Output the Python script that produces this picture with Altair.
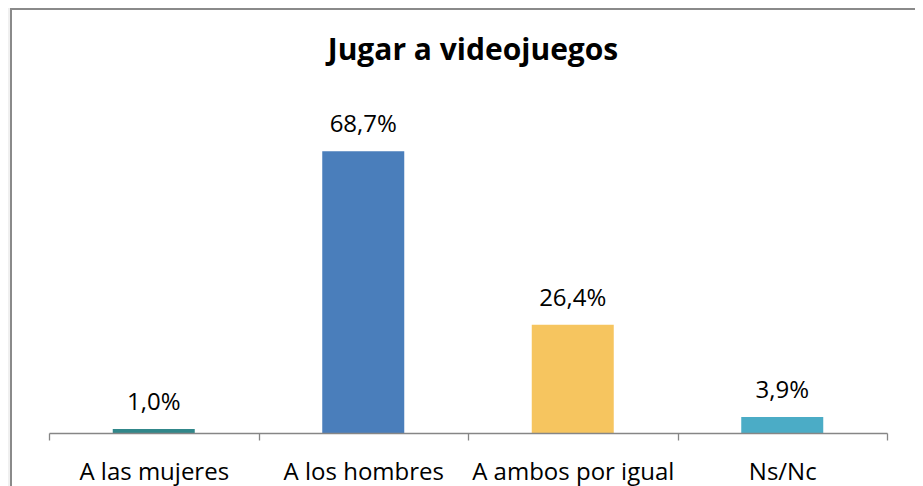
import altair as alt
import pandas as pd

categories = ["A las mujeres", "A los hombres", "A ambos por igual", "Ns/Nc"]
values = [1.0, 68.7, 26.4, 3.9]
labels = ["1,0%", "68,7%", "26,4%", "3,9%"]
colors = ["#31878a", "#4a7ebb", "#f6c55f", "#4bacc6"]
title_text = "Jugar a videojuegos"

df = pd.DataFrame({"cat": categories, "val": values, "lab": labels})
FONT = "Open Sans"

x_enc = alt.X("cat:N", sort=categories, title=None,
              scale=alt.Scale(paddingInner=0, paddingOuter=0),
              axis=alt.Axis(labelAngle=0, labelFontSize=24, labelFont=FONT, labelColor="#000000",
                            labelLimit=400, ticks=True,
                            domainColor="#868686", tickColor="#868686", tickBand="extent",
                            tickSize=7, tickWidth=1.3, labelPadding=20, domainWidth=1.3,
                            zindex=1))
y_enc = alt.Y("val:Q", scale=alt.Scale(domain=[0, 80]), axis=None)

frame = alt.Chart(pd.DataFrame({"a": [0]})).mark_rect(
    fill="#ffffff", stroke="#8a8a8a", strokeWidth=2
).encode(x=alt.value(-38), x2=alt.value(900), y=alt.value(-96), y2=alt.value(500))

title = alt.Chart(pd.DataFrame({"t": [title_text]})).mark_text(
    fontSize=30, font=FONT, fontWeight="bold", color="#000000",
    baseline="alphabetic", align="center"
).encode(x=alt.value(424), y=alt.value(-45), text="t:N")

bars = alt.Chart(df).mark_bar(size=82).encode(
    x=x_enc, y=y_enc,
    color=alt.Color("cat:N", sort=categories,
                    scale=alt.Scale(domain=categories, range=colors), legend=None),
)

text = alt.Chart(df).mark_text(fontSize=24, font=FONT, color="#000000",
                               baseline="alphabetic", dy=-19).encode(
    x=alt.X("cat:N", sort=categories), y="val:Q", text="lab:N")

chart = alt.layer(frame, title, bars, text).properties(
    width=838, height=328,
    autosize=alt.AutoSizeParams(type="none"),
    padding={"left": 41, "top": 97, "right": 28, "bottom": 60},
    background="#f0f0f0",
).configure_view(stroke=None)

chart.save("out.html", embed_options={"renderer": "svg", "actions": False})
